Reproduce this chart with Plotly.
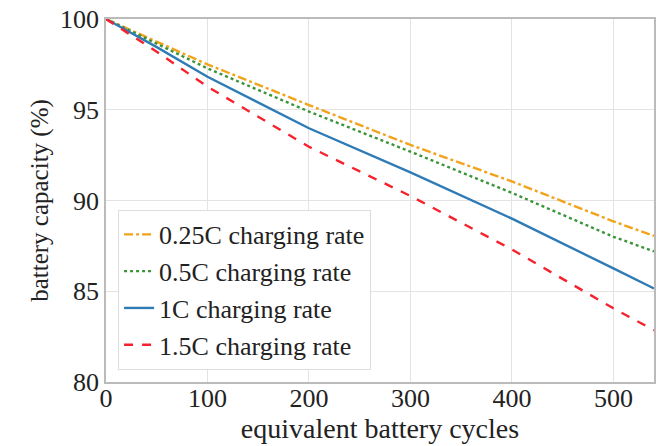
import plotly.graph_objects as go

cycles = [0, 50, 100, 200, 300, 400, 500, 540]
cap_025c = [100, 98.75, 97.5, 95.26, 93.06, 91.05, 88.85, 88.05]
cap_05c = [100, 98.65, 97.28, 94.9, 92.69, 90.42, 88.0, 87.2]
cap_1c = [100, 98.45, 96.82, 93.98, 91.55, 89.0, 86.26, 85.15]
cap_15c = [100, 98.2, 96.27, 92.96, 90.25, 87.3, 84.06, 82.85]

names = ["0.25C charging rate", "0.5C charging rate", "1C charging rate", "1.5C charging rate"]
series = [cap_025c, cap_05c, cap_1c, cap_15c]
colors = ["#f2a31c", "#3a953a", "#2f7bb6", "#f5222d"]
dashes = ["dashdot", "dot", "solid", "dash"]

fig = go.Figure()
for i, (n, s, c, d) in enumerate(zip(names, series, colors, dashes)):
    fig.add_trace(go.Scatter(x=cycles, y=s, mode="lines", name=n, legendgroup=f"g{i}",
                             line=dict(color=c, dash=d, width=2.4)))

font_family = "Liberation Serif"
fig.update_layout(
    width=657, height=446,
    margin=dict(l=106, r=3, t=19, b=64),
    plot_bgcolor="white", paper_bgcolor="white",
    font=dict(family=font_family, size=26, color="#222"),
    showlegend=True,
    legend=dict(x=0.022, y=0.474, xanchor="left", yanchor="top",
                bgcolor="white", bordercolor="#dddddd", borderwidth=1,
                font=dict(family=font_family, size=26, color="#222"),
                traceorder="grouped", tracegroupgap=0),
)
fig.update_xaxes(range=[0, 540], tickvals=[0, 100, 200, 300, 400, 500],
                 showgrid=True, gridcolor="#e3e3e3", gridwidth=1,
                 showline=True, linecolor="#bbbbbb", linewidth=1.5, mirror=True,
                 zeroline=False, ticks="", automargin=False, ticklabelstandoff=-8,
                 title=dict(text="equivalent battery cycles", font=dict(size=28), standoff=0))
fig.update_yaxes(range=[80, 100], tickvals=[80, 85, 90, 95, 100],
                 showgrid=True, gridcolor="#e3e3e3", gridwidth=1,
                 showline=True, linecolor="#bbbbbb", linewidth=1.5, mirror=True,
                 zeroline=False, ticks="", automargin=False,
                 title=dict(text="battery capacity (%)", font=dict(size=25), standoff=4))

fig.write_html("out.html", config={"displayModeBar": False})
with open("out.html", "r", encoding="utf-8") as f:
    html = f.read()
html = html.replace("<head>", "<head><style>html,body{margin:0;padding:0;overflow:hidden}</style>", 1)
with open("out.html", "w", encoding="utf-8") as f:
    f.write(html)
